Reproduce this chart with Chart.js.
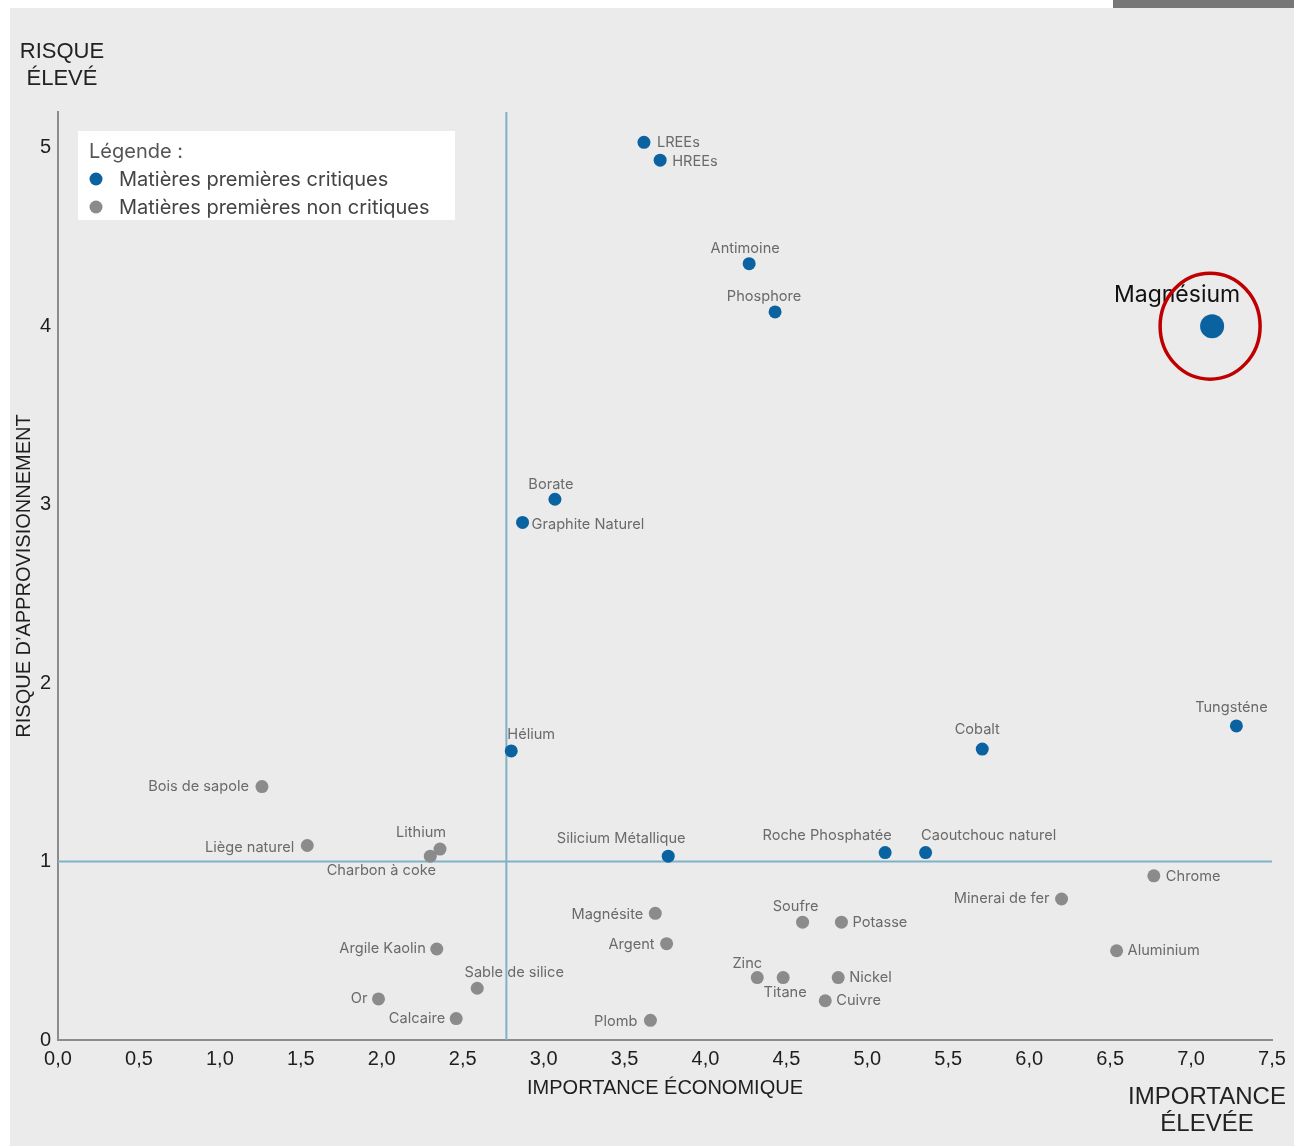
<!DOCTYPE html>
<html lang="fr">
<head>
<meta charset="utf-8">
<title>Matières premières</title>
<script src="https://cdn.jsdelivr.net/npm/chart.js@4.4.1/dist/chart.umd.min.js"></script>
<style>
  html, body { margin: 0; padding: 0; background: #fff; }
  #wrap { position: relative; width: 1294px; height: 1146px; overflow: hidden; }
  #panel { position: absolute; left: 10px; top: 8px; right: 0; bottom: 0; background: #ebebeb; }
  #bar { position: absolute; left: 1113px; top: 0; width: 181px; height: 8px; background: #777; }
  canvas { position: absolute; left: 0; top: 0; }
</style>
</head>
<body>
<div id="wrap">
  <div id="panel"></div>
  <div id="bar"></div>
  <canvas id="matrice" width="1294" height="1146"></canvas>
</div>
<script>
// matières premières critiques
const critNames = ["LREEs", "HREEs", "Antimoine", "Phosphore", "Magnésium", "Borate",
  "Graphite Naturel", "Hélium", "Cobalt", "Tungsténe", "Silicium Métallique",
  "Roche Phosphatée", "Caoutchouc naturel"];
const critX = [3.62, 3.72, 4.27, 4.43, 7.13, 3.07, 2.87, 2.80, 5.71, 7.28, 3.77, 5.11, 5.36];
const critY = [5.03, 4.93, 4.35, 4.08, 4.00, 3.03, 2.90, 1.62, 1.63, 1.76, 1.03, 1.05, 1.05];

// matières premières non critiques
const otherNames = ["Bois de sapole", "Liège naturel", "Lithium", "Charbon à coke", "Argile Kaolin",
  "Sable de silice", "Or", "Calcaire", "Plomb", "Magnésite", "Argent", "Zinc", "Titane",
  "Soufre", "Potasse", "Nickel", "Cuivre", "Minerai de fer", "Chrome", "Aluminium"];
const otherX = [1.26, 1.54, 2.36, 2.30, 2.34, 2.59, 1.98, 2.46, 3.66, 3.69, 3.76, 4.32, 4.48,
  4.60, 4.84, 4.82, 4.74, 6.20, 6.77, 6.54];
const otherY = [1.42, 1.09, 1.07, 1.03, 0.51, 0.29, 0.23, 0.12, 0.11, 0.71, 0.54, 0.35, 0.35,
  0.66, 0.66, 0.35, 0.22, 0.79, 0.92, 0.50];

const seriesLabels = ["Matières premières critiques", "Matières premières non critiques"];
const seuilX = 2.77;
const seuilY = 1;
const highlight = "Magnésium";

// placement des étiquettes : [dx, dy, alignement]
const labelPlace = {
  "LREEs": [13, 0, "left"], "HREEs": [12, 1, "left"], "Antimoine": [-4, -15, "center"],
  "Phosphore": [-11, -15, "center"], "Magnésium": [-35, -31, "center"], "Borate": [-4, -15, "center"],
  "Graphite Naturel": [9, 2, "left"], "Hélium": [20, -16, "center"], "Cobalt": [-5, -19, "center"],
  "Tungsténe": [-5, -18, "center"], "Silicium Métallique": [-47, -18, "center"],
  "Roche Phosphatée": [-58, -17, "center"], "Caoutchouc naturel": [63, -17, "center"],
  "Bois de sapole": [-13, 0, "right"], "Liège naturel": [-13, 2, "right"], "Lithium": [-19, -16, "center"],
  "Charbon à coke": [-49, 14, "center"], "Argile Kaolin": [-11, 0, "right"],
  "Sable de silice": [37, -16, "center"], "Or": [-11, 0, "right"], "Calcaire": [-11, 0, "right"],
  "Plomb": [-13, 1, "right"], "Magnésite": [-12, 1, "right"], "Argent": [-12, 1, "right"],
  "Zinc": [-10, -14, "center"], "Titane": [2, 15, "center"], "Soufre": [-7, -16, "center"],
  "Potasse": [11, 0, "left"], "Nickel": [11, 0, "left"], "Cuivre": [11, 0, "left"],
  "Minerai de fer": [-12, 0, "right"], "Chrome": [12, 1, "left"], "Aluminium": [11, 0, "left"]
};

const BLUE = "#0b62a0";
const GREY = "#8b8b8b";
const SANS = "'Liberation Sans', Arial, sans-serif";

function toPoints(xs, ys, names) {
  return xs.map((x, i) => ({ x: x, y: ys[i], name: names[i] }));
}

const quadrants = {
  id: "quadrants",
  beforeDatasetsDraw(chart) {
    const { ctx, chartArea, scales } = chart;
    const px = scales.x.getPixelForValue(seuilX);
    const py = scales.y.getPixelForValue(seuilY);
    ctx.save();
    ctx.strokeStyle = "#7fb2c9";
    ctx.lineWidth = 2;
    ctx.beginPath();
    ctx.moveTo(px, chartArea.top);
    ctx.lineTo(px, chartArea.bottom);
    ctx.moveTo(chartArea.left, py);
    ctx.lineTo(chartArea.right, py);
    ctx.stroke();
    ctx.restore();
  }
};

const pointLabels = {
  id: "pointLabels",
  afterDatasetsDraw(chart) {
    const ctx = chart.ctx;
    ctx.save();
    ctx.textBaseline = "middle";
    chart.data.datasets.forEach((ds, di) => {
      const meta = chart.getDatasetMeta(di);
      meta.data.forEach((el, i) => {
        const name = ds.data[i].name;
        const p = labelPlace[name] || [10, 0, "left"];
        if (name === highlight) {
          ctx.font = "23px Inter, sans-serif";
          ctx.fillStyle = "#111";
        } else {
          ctx.font = "14.6px Inter, sans-serif";
          ctx.fillStyle = "#6a6a6a";
        }
        ctx.textAlign = p[2];
        ctx.fillText(name, el.x + p[0], el.y + p[1]);
        if (name === highlight) {
          ctx.strokeStyle = "#c00000";
          ctx.lineWidth = 3.5;
          ctx.beginPath();
          ctx.ellipse(el.x - 2, el.y, 50, 53, 0, 0, Math.PI * 2);
          ctx.stroke();
        }
      });
    });
    ctx.restore();
  }
};

const extras = {
  id: "extras",
  afterDraw(chart) {
    const ctx = chart.ctx;
    ctx.save();
    // légende
    ctx.fillStyle = "#ffffff";
    ctx.fillRect(78, 131, 377, 89);
    ctx.textBaseline = "middle";
    ctx.textAlign = "left";
    ctx.font = "20px Inter, sans-serif";
    ctx.fillStyle = "#555";
    ctx.fillText("Légende :", 89, 152);
    chart.data.datasets.forEach((ds, i) => {
      const y = 179 + i * 28;
      ctx.fillStyle = ds.backgroundColor;
      ctx.beginPath();
      ctx.arc(96, y, 6.5, 0, Math.PI * 2);
      ctx.fill();
      ctx.fillStyle = "#444";
      ctx.fillText(ds.label, 119, y + 1);
    });
    // coins
    ctx.fillStyle = "#222";
    ctx.font = "22px " + SANS;
    ctx.textAlign = "center";
    ctx.fillText("RISQUE", 62, 52);
    ctx.fillText("ÉLEVÉ", 62, 79);
    ctx.font = "24px " + SANS;
    ctx.fillText("IMPORTANCE", 1207, 1097);
    ctx.fillText("ÉLEVÉE", 1207, 1124);
    ctx.restore();
  }
};

new Chart(document.getElementById("matrice"), {
  type: "scatter",
  data: {
    datasets: [
      {
        label: seriesLabels[0],
        data: toPoints(critX, critY, critNames),
        backgroundColor: BLUE,
        borderWidth: 0,
        pointRadius: (c) => (c.raw && c.raw.name === highlight ? 12 : 6.5),
      },
      {
        label: seriesLabels[1],
        data: toPoints(otherX, otherY, otherNames),
        backgroundColor: GREY,
        borderWidth: 0,
        pointRadius: 6.5,
      },
    ],
  },
  options: {
    responsive: false,
    animation: false,
    layout: { padding: { top: 112, right: 22, left: 0, bottom: 0 } },
    plugins: {
      legend: { display: false },
      tooltip: { enabled: false },
    },
    scales: {
      x: {
        type: "linear",
        min: 0,
        max: 7.5,
        grid: { display: false, drawTicks: false },
        border: { display: true, color: "#8c8c8c", width: 2 },
        ticks: {
          stepSize: 0.5,
          padding: 7,
          color: "#1e1e1e",
          font: { family: SANS, size: 20 },
          callback: (v) => v.toFixed(1).replace(".", ","),
        },
        title: {
          display: true,
          text: "IMPORTANCE ÉCONOMIQUE",
          color: "#1e1e1e",
          font: { family: SANS, size: 20 },
          padding: { top: 0, bottom: 46 },
        },
        afterFit(scale) { scale.height = 106; },
      },
      y: {
        type: "linear",
        min: 0,
        max: 5.2,
        grid: { display: false, drawTicks: false },
        border: { display: true, color: "#8c8c8c", width: 2 },
        ticks: {
          stepSize: 1,
          includeBounds: false,
          padding: 7,
          color: "#1e1e1e",
          font: { family: SANS, size: 20 },
          callback: (v) => (Number.isInteger(v) ? String(v) : ""),
        },
        title: {
          display: true,
          text: "RISQUE D’APPROVISIONNEMENT",
          color: "#1e1e1e",
          font: { family: SANS, size: 20 },
          padding: { top: 12, bottom: 0 },
        },
        afterFit(scale) { scale.width = 58; },
      },
    },
  },
  plugins: [quadrants, pointLabels, extras],
});
</script>
</body>
</html>
